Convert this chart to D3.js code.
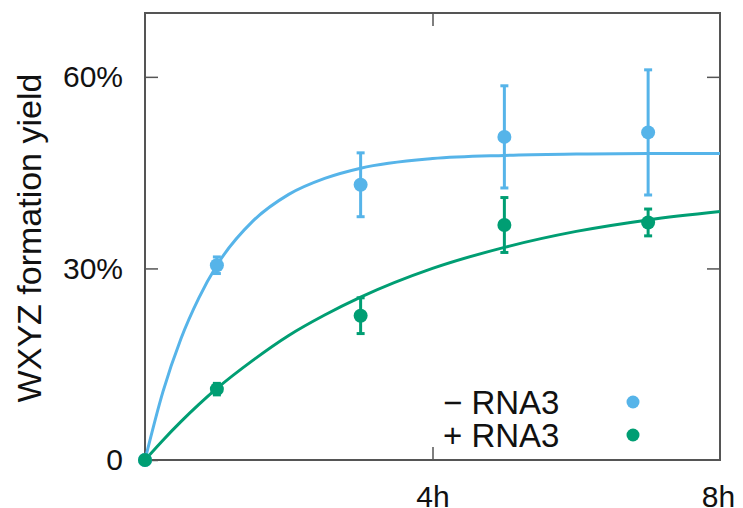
<!DOCTYPE html>
<html lang="en">
<head>
<meta charset="utf-8">
<style>
  body { margin: 0; background: white; }
  svg { background: white; }
  .tick text { font-family: "Liberation Sans", Arial, sans-serif; font-size: 30px; fill: #111; }
  .label { font-family: "Liberation Sans", Arial, sans-serif; font-size: 34px; fill: #111; }
  .legend { font-family: "Liberation Sans", Arial, sans-serif; font-size: 33px; fill: #111; }
</style>
<script src="https://cdn.jsdelivr.net/npm/d3@7"></script>
</head>
<body>
<script>
// measured points (hours, % yield, error)
var times = [0, 1, 3, 5, 7];
var minusY = [0, 30.5, 43.1, 50.6, 51.3];
var minusErr = [0, 1.3, 5.0, 8.0, 9.8];
var plusY = [0, 11.1, 22.6, 36.8, 37.2];
var plusErr = [0, 0.9, 2.8, 4.3, 2.1];

// fitted curves
var curveT = [0, 0.25, 0.5, 0.75, 1, 1.5, 2, 2.5, 3, 4, 5, 6, 7, 8];
var minusFit = [0, 10.7, 19.0, 25.4, 30.5, 37.4, 41.6, 44.1, 45.7, 47.2, 47.7, 47.9, 48.0, 48.0];
var plusFit = [0, 3.1, 6.0, 8.7, 11.2, 15.6, 19.5, 22.7, 25.5, 30.0, 33.3, 35.8, 37.6, 38.9];

var yTicks = [0, 30, 60];
var xTicks = [4, 8];
var seriesNames = ["\u2212 RNA3", "+ RNA3"];
var colors = ["#56b4e9", "#009e73"];

var width = 743, height = 508;
var m = { left: 145, right: 720, top: 13, bottom: 460 };

var x = d3.scaleLinear().domain([0, 8]).range([m.left, m.right]);
var y = d3.scaleLinear().domain([0, 70]).range([m.bottom, m.top]);

var svg = d3.select("body").append("svg")
    .attr("width", width)
    .attr("height", height);

// ticks (inward, on all four sides)
var gl = svg.append("g").attr("transform", "translate(" + m.left + ",0)")
    .call(d3.axisLeft(y).tickValues(yTicks).tickSize(-13).tickPadding(22)
        .tickFormat(function(d) { return d === 0 ? "0" : d + "%"; }));
var gr = svg.append("g").attr("transform", "translate(" + m.right + ",0)")
    .call(d3.axisRight(y).tickValues(yTicks.slice(1)).tickSize(-13).tickFormat(""));
var gb = svg.append("g").attr("transform", "translate(0," + m.bottom + ")")
    .call(d3.axisBottom(x).tickValues(xTicks).tickSize(-13).tickPadding(26)
        .tickFormat(function(d) { return d + "h"; }));
var gt = svg.append("g").attr("transform", "translate(0," + m.top + ")")
    .call(d3.axisTop(x).tickValues([4]).tickSize(-13).tickFormat(""));

[gl, gr, gb, gt].forEach(function(g) {
    g.select(".domain").remove();
    g.selectAll(".tick line").attr("stroke", "#555").attr("stroke-width", 1.5);
});
gb.selectAll(".tick").filter(function(d) { return d === 8; }).select("line").remove();
gb.selectAll(".tick text").attr("dx", function(d) { return d === 8 ? -2 : 0; });

// frame
svg.append("rect")
    .attr("x", m.left).attr("y", m.top)
    .attr("width", m.right - m.left).attr("height", m.bottom - m.top)
    .attr("fill", "none").attr("stroke", "#555").attr("stroke-width", 2);

svg.append("text")
    .attr("class", "label")
    .attr("transform", "translate(41,238) rotate(-90)")
    .attr("text-anchor", "middle")
    .text("WXYZ formation yield");

var line = d3.line()
    .x(function(d) { return x(d[0]); })
    .y(function(d) { return y(d[1]); })
    .curve(d3.curveMonotoneX);

var series = [
    { fit: minusFit, pts: minusY, err: minusErr },
    { fit: plusFit, pts: plusY, err: plusErr }
];

series.forEach(function(s, i) {
    svg.append("path")
        .datum(curveT.map(function(t, j) { return [t, s.fit[j]]; }))
        .attr("d", line)
        .attr("fill", "none")
        .attr("stroke", colors[i])
        .attr("stroke-width", 3);
});

series.forEach(function(s, i) {
    var g = svg.append("g");
    var data = times.map(function(t, j) { return { t: t, v: s.pts[j], e: s.err[j] }; });
    var bars = g.selectAll(".err").data(data.filter(function(d) { return d.e > 0; }))
        .enter().append("g").attr("stroke", colors[i]).attr("stroke-width", 3);
    bars.append("line")
        .attr("x1", function(d) { return x(d.t); }).attr("x2", function(d) { return x(d.t); })
        .attr("y1", function(d) { return y(d.v - d.e); }).attr("y2", function(d) { return y(d.v + d.e); });
    bars.append("line")
        .attr("x1", function(d) { return x(d.t) - 4; }).attr("x2", function(d) { return x(d.t) + 4; })
        .attr("y1", function(d) { return y(d.v + d.e); }).attr("y2", function(d) { return y(d.v + d.e); });
    bars.append("line")
        .attr("x1", function(d) { return x(d.t) - 4; }).attr("x2", function(d) { return x(d.t) + 4; })
        .attr("y1", function(d) { return y(d.v - d.e); }).attr("y2", function(d) { return y(d.v - d.e); });
    g.selectAll("circle").data(data).enter().append("circle")
        .attr("cx", function(d) { return x(d.t); })
        .attr("cy", function(d) { return y(d.v); })
        .attr("r", 7)
        .attr("fill", colors[i]);
});

// legend
var leg = svg.append("g");
seriesNames.forEach(function(name, i) {
    var yy = 414 + i * 33;
    leg.append("text").attr("class", "legend")
        .attr("x", 443).attr("y", yy).text(name);
    leg.append("circle").attr("cx", 633).attr("cy", yy - 12).attr("r", 6.5).attr("fill", colors[i]);
});
</script>
</body>
</html>
